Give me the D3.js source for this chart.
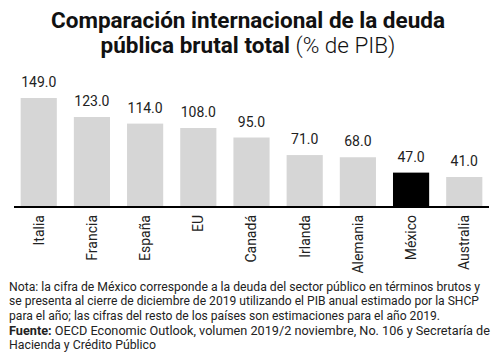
<!DOCTYPE html>
<html><head><meta charset="utf-8">
<script src="https://cdn.jsdelivr.net/npm/d3@7"></script>
<style>body{margin:0;background:#fff}svg{display:block}text{font-family:Roboto,"Noto Sans",sans-serif}</style>
</head><body>
<svg id="c" width="500" height="358"></svg>
<script>
const categories = ["Italia","Francia","España","EU","Canadá","Irlanda","Alemania","México","Australia"];
const values = [149.0,123.0,114.0,108.0,95.0,71.0,68.0,47.0,41.0];
const highlight = "México";
const titleLine1 = "Comparación internacional de la deuda";
const titleLine2Bold = "pública brutal total";
const titleLine2Reg = " (% de PIB)";
const noteLines = [
 "Nota: la cifra de México corresponde a la deuda del sector público en términos brutos y",
 "se presenta al cierre de diciembre de 2019 utilizando el PIB anual estimado por la SHCP",
 "para el año; las cifras del resto de los países son estimaciones para el año 2019."
];
const sourceBold = "Fuente:";
const sourceLines = [" OECD Economic Outlook, volumen 2019/2 noviembre, No. 106 y Secretaría de","Hacienda y Crédito Público"];

const svg = d3.select("#c");
const x = d3.scaleBand().domain(categories).range([14,489]).paddingInner(0.32).paddingOuter(0.125);
const y = d3.scaleLinear().domain([0,149]).range([207,98]);

// title
svg.append("text").attr("x",248).attr("y",28).attr("text-anchor","middle")
  .attr("font-size",22.5).attr("font-weight",700).attr("fill","#111").text(titleLine1);
const t2 = svg.append("text").attr("x",248).attr("y",53).attr("text-anchor","middle").attr("font-size",22.5).attr("fill","#111");
t2.append("tspan").attr("font-weight",700).text(titleLine2Bold);
t2.append("tspan").attr("font-weight",300).text(titleLine2Reg);

const data = categories.map((c,i)=>({c, v: values[i]}));
svg.selectAll("rect.bar").data(data).join("rect").attr("class","bar")
  .attr("x",d=>x(d.c)).attr("width",x.bandwidth())
  .attr("y",d=>y(d.v)).attr("height",d=>y(0)-y(d.v))
  .attr("fill",d=>d.c===highlight?"#000":"#d6d6d6");

svg.selectAll("text.val").data(data).join("text").attr("class","val")
  .attr("x",d=>x(d.c)+x.bandwidth()/2).attr("y",d=>y(d.v)-11)
  .attr("text-anchor","middle").attr("font-size",14).attr("fill","#222")
  .text(d=>d3.format(".1f")(d.v));

const xAxis = svg.append("g").attr("transform","translate(0,207)")
  .call(d3.axisBottom(x).tickSize(0).tickPadding(0));
xAxis.select(".domain").attr("stroke","#000").attr("stroke-width",2).attr("d","M14,0H489");
xAxis.selectAll(".tick text").attr("font-size",14).attr("fill","#222")
  .attr("font-family","Roboto,sans-serif")
  .attr("transform","rotate(-90)").attr("text-anchor","end")
  .attr("x",-8).attr("y",0).attr("dy","0.35em");

// notes
const noteWidths = [471,470,431];
const nt = svg.append("g").attr("font-size",12.5).attr("fill","#222");
noteLines.forEach((l,i)=>{
  nt.append("text").attr("x",9).attr("y",290.5+i*14.7)
    .attr("textLength",noteWidths[i]).attr("lengthAdjust","spacingAndGlyphs").text(l);
});
const s1 = nt.append("text").attr("x",9).attr("y",290.5+3*14.7)
  .attr("textLength",481).attr("lengthAdjust","spacingAndGlyphs");
s1.append("tspan").attr("font-weight",700).text(sourceBold);
s1.append("tspan").text(sourceLines[0]);
nt.append("text").attr("x",9).attr("y",290.5+4*14.7)
  .attr("textLength",147).attr("lengthAdjust","spacingAndGlyphs").text(sourceLines[1]);
</script>
</body></html>
